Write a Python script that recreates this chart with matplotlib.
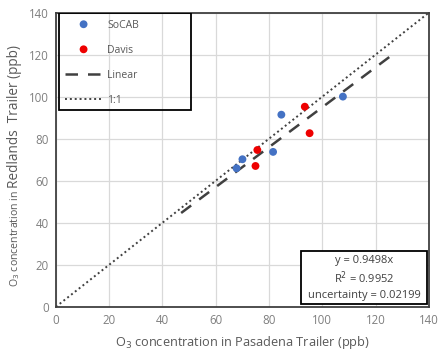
import matplotlib
matplotlib.use("Agg")
import matplotlib.pyplot as plt
from matplotlib.patches import Rectangle
import numpy as np

plt.rcParams['font.family'] = ['Open Sans', 'DejaVu Sans']

socab_x = [67.8, 70.0, 81.5, 84.6, 107.7]
socab_y = [65.9, 70.2, 73.7, 91.4, 100.0]
davis_x = [74.9, 75.6, 93.4, 95.2]
davis_y = [67.0, 74.6, 95.2, 82.6]
slope = 0.9498
fit_range = [47, 128]
ticks = [0, 20, 40, 60, 80, 100, 120, 140]
stats_lines = ['y = 0.9498x', 'R$^2$ = 0.9952', 'uncertainty = 0.02199']

grey = '#595959'
tick_grey = '#7f7f7f'
fig = plt.figure(figsize=(4.4, 3.58), dpi=100)
ax = fig.add_axes([0.127, 0.143, 0.848, 0.822])

ax.set_xlim(0, 140)
ax.set_ylim(0, 140)
ax.set_xticks(ticks)
ax.set_yticks(ticks)
ax.grid(True, color='#d9d9d9', linewidth=0.9)
ax.set_axisbelow(True)
ax.tick_params(length=0, labelsize=8.3, colors=tick_grey, pad=5)
for s in ax.spines.values():
    s.set_color('#404040')
    s.set_linewidth(1.3)

ax.scatter(socab_x, socab_y, s=32, color='#4472C4', label='SoCAB', zorder=3, edgecolors='none')
ax.scatter(davis_x, davis_y, s=32, color='#EE0000', label='Davis', zorder=3, edgecolors='none')
fx = np.array(fit_range)
ax.plot(fx, slope * fx, color='#404040', linestyle=(0, (5, 4)), linewidth=1.8, label='Linear', zorder=2)
ax.plot([0, 140], [0, 140], color='#404040', linestyle=(0, (1, 1.5)), linewidth=1.4, label='1:1', zorder=2)

leg = ax.legend(loc='upper left', bbox_to_anchor=(0.024, 0.975), fontsize=7.5, labelcolor=grey,
                frameon=False, borderpad=0.0,
                labelspacing=1.35, handlelength=3.6, handletextpad=0.45, borderaxespad=0.0,
                scatteryoffsets=[0.5])
ax.add_patch(Rectangle((0.008, 0.669), 0.354, 0.329, transform=ax.transAxes, fill=False,
                       edgecolor='black', linewidth=1.3, zorder=5))

# stats box
ax.add_patch(Rectangle((0.657, 0.008), 0.338, 0.181, transform=ax.transAxes, facecolor='white',
                       edgecolor='black', linewidth=1.3, zorder=5))
for txt, yy in zip(stats_lines, [0.156, 0.098, 0.040]):
    ax.text(0.826, yy, txt, transform=ax.transAxes, ha='center', va='center', fontsize=8,
            color='#404040', zorder=6)

ax.set_xlabel('O$_3$ concentration in Pasadena Trailer (ppb)', fontsize=9.2, color=grey, labelpad=5)
fig.text(0.034, 0.335, 'O$_3$ concentration in', rotation=90, fontsize=7.6, color=grey, ha='center', va='center')
fig.text(0.034, 0.675, 'Redlands  Trailer (ppb)', rotation=90, fontsize=9.8, color=grey, ha='center', va='center')

fig.savefig('out.png', dpi=100)
